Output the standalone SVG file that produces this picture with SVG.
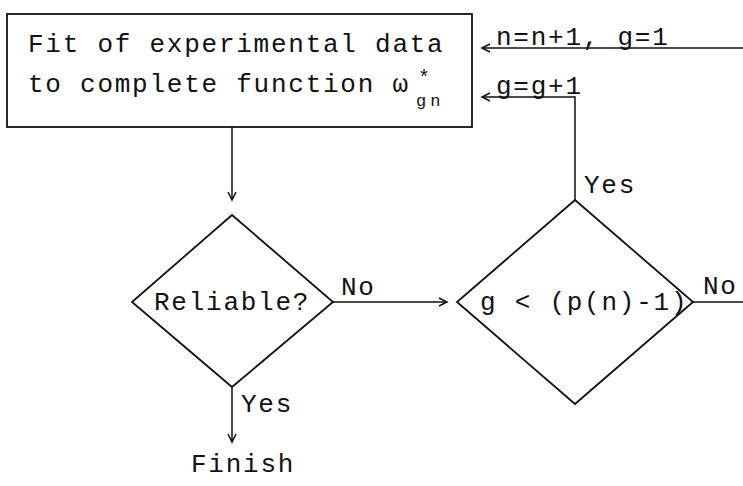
<svg xmlns="http://www.w3.org/2000/svg" width="743" height="486" viewBox="0 0 743 486">
<defs>
<style>
.t{font-family:"Liberation Mono","DejaVu Sans Mono",monospace;font-size:26px;letter-spacing:1.75px;fill:#111}
.s{font-family:"Liberation Mono","DejaVu Sans Mono",monospace;font-size:17px;letter-spacing:4px;fill:#111}
.shape{fill:none;stroke:#111;stroke-width:1.8}
.ln{fill:none;stroke:#111;stroke-width:1.5}
</style>
<marker id="ah" viewBox="-10 -6 12 12" markerWidth="12" markerHeight="12" refX="0" refY="0" orient="auto" markerUnits="userSpaceOnUse">
<path d="M-8,-4 L0,0 L-8,4" fill="none" stroke="#111" stroke-width="1.5"/>
</marker>
</defs>
<rect width="743" height="486" fill="#fff"/>
<g id="fit">
<rect class="shape" x="7" y="14" width="465" height="113"/>
<text class="t" x="28" y="52">Fit of experimental data</text>
<text class="t" x="28" y="92">to complete function ω</text>
<text class="t" x="418" y="84" style="font-size:20px">*</text>
<text class="s" x="416" y="106">gn</text>
</g>
<g id="reliable">
<polygon class="shape" points="232,215 333,302 232,387 132,302"/>
<text class="t" x="154" y="310">Reliable?</text>
</g>
<g id="condition">
<polygon class="shape" points="575,200 693,302 575,404 457,302"/>
<text class="t" x="480" y="310">g &lt; (p(n)-1)</text>
</g>
<g id="finish">
<text class="t" x="191" y="472">Finish</text>
</g>
<g id="connectors">
<line class="ln" x1="232" y1="127" x2="232" y2="200" marker-end="url(#ah)"/>
<line class="ln" x1="333" y1="302" x2="447" y2="302" marker-end="url(#ah)"/>
<line class="ln" x1="232" y1="387" x2="232" y2="442" marker-end="url(#ah)"/>
<polyline class="ln" points="575,200 575,97 482,97" marker-end="url(#ah)"/>
<line class="ln" x1="743" y1="48" x2="482" y2="48" marker-end="url(#ah)"/>
<line class="ln" x1="693" y1="302" x2="743" y2="302"/>
<text class="t" x="496" y="45">n=n+1, g=1</text>
<text class="t" x="496" y="94">g=g+1</text>
<text class="t" x="584" y="193">Yes</text>
<text class="t" x="341" y="295">No</text>
<text class="t" x="703" y="294">No</text>
<text class="t" x="241" y="412">Yes</text>
</g>
</svg>
